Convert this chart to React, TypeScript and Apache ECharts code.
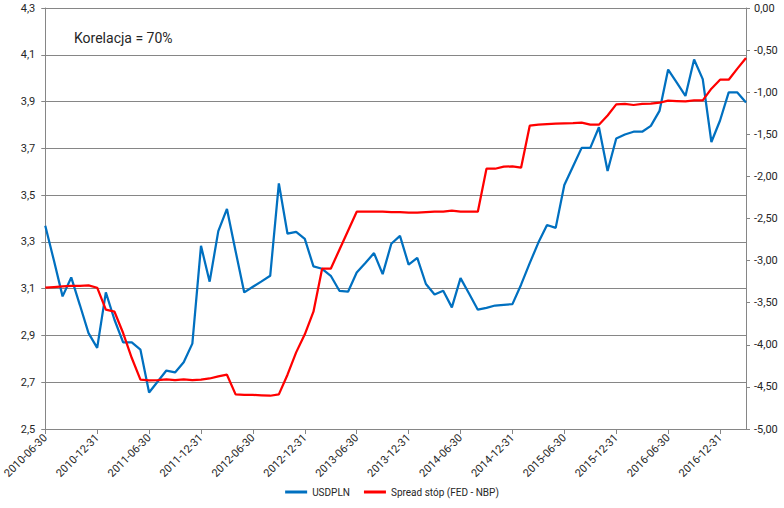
import React, { useEffect, useRef } from "react";
import * as echarts from "echarts";

// Monthly observations, June 2010 .. March 2017
const usdpln: number[] = [
  3.369, 3.22, 3.067, 3.148, 3.03, 2.91, 2.847, 3.084, 2.967, 2.87,
  2.87, 2.839, 2.656, 2.703, 2.75, 2.742, 2.785, 2.865, 3.283, 3.13,
  3.346, 3.441, 3.26, 3.084, 3.108, 3.131, 3.155, 3.55, 3.335, 3.343,
  3.313, 3.195, 3.185, 3.155, 3.091, 3.087, 3.169, 3.21, 3.252, 3.162,
  3.292, 3.326, 3.203, 3.232, 3.12, 3.075, 3.091, 3.02, 3.145, 3.078,
  3.01, 3.018, 3.028, 3.031, 3.034, 3.117, 3.209, 3.297, 3.372, 3.36,
  3.543, 3.622, 3.702, 3.702, 3.79, 3.603, 3.742, 3.759, 3.771, 3.771,
  3.796, 3.86, 4.037, 3.981, 3.924, 4.08, 3.996, 3.727, 3.819, 3.939,
  3.939, 3.896,
];

const spread: number[] = [
  -3.322, -3.314, -3.306, -3.3, -3.3, -3.294, -3.322, -3.583, -3.607, -3.86,
  -4.157, -4.414, -4.423, -4.42, -4.41, -4.42, -4.41, -4.42, -4.414, -4.4,
  -4.375, -4.355, -4.589, -4.595, -4.595, -4.6, -4.605, -4.589, -4.355, -4.09,
  -3.876, -3.607, -3.096, -3.096, -2.871, -2.645, -2.419, -2.419, -2.419, -2.419,
  -2.425, -2.425, -2.431, -2.431, -2.425, -2.419, -2.419, -2.407, -2.419, -2.419,
  -2.419, -1.909, -1.909, -1.885, -1.881, -1.897, -1.398, -1.386, -1.38, -1.374,
  -1.371, -1.368, -1.362, -1.386, -1.386, -1.276, -1.145, -1.14, -1.152, -1.14,
  -1.137, -1.125, -1.101, -1.105, -1.109, -1.097, -1.097, -0.958, -0.852, -0.852,
  -0.72, -0.594,
];

const START_YEAR = 2010;
const START_MONTH = 6;

const pad = (n: number) => (n < 10 ? "0" + n : "" + n);
const categories: string[] = usdpln.map((_, i) => {
  const idx = START_MONTH - 1 + i;
  const y = START_YEAR + Math.floor(idx / 12);
  const m = (idx % 12) + 1;
  const d = new Date(Date.UTC(y, m, 0)).getUTCDate();
  return `${y}-${pad(m)}-${pad(d)}`;
});

const leftTicks: string[] = ["2,5", "2,7", "2,9", "3,1", "3,3", "3,5", "3,7", "3,9", "4,1", "4,3"];
const LEFT_MIN = 2.5;
const LEFT_MAX = 4.3;
const RIGHT_MIN = -5;
const RIGHT_MAX = 0;
const RIGHT_STEP = 0.5;

const seriesNames = ["USDPLN", "Spread stóp (FED - NBP)"];
const annotation = "Korelacja = 70%";

const FONT = "Roboto, 'Noto Sans', sans-serif";
const AXIS_GRAY = "#868686";
const TEXT = "#262626";

export default function App() {
  const ref = useRef<HTMLDivElement>(null);

  useEffect(() => {
    if (!ref.current) return;
    const chart = echarts.init(ref.current, undefined, { renderer: "svg" });
    chart.setOption({
      animation: false,
      textStyle: { fontFamily: FONT },
      grid: { left: 42, right: 38, top: 8, bottom: 79, containLabel: false },
      xAxis: {
        type: "category",
        data: categories,
        boundaryGap: false,
        axisLine: { show: true, lineStyle: { color: AXIS_GRAY, width: 1 } },
        axisTick: { show: true, interval: 5, length: 5, lineStyle: { color: AXIS_GRAY } },
        axisLabel: {
          interval: 5,
          rotate: 45,
          margin: 7,
          fontSize: 11,
          color: TEXT,
          fontFamily: FONT,
        },
        splitLine: { show: false },
      },
      yAxis: [
        {
          // data axis for USDPLN (hidden)
          type: "value",
          min: LEFT_MIN,
          max: LEFT_MAX,
          show: false,
          position: "left",
        },
        {
          // visible left scale with gridlines
          type: "value",
          min: 0,
          max: leftTicks.length - 1,
          interval: 1,
          position: "left",
          axisLine: { show: true, lineStyle: { color: AXIS_GRAY, width: 1 } },
          axisTick: { show: true, length: 4, lineStyle: { color: AXIS_GRAY } },
          axisLabel: {
            margin: 10,
            fontSize: 11,
            color: TEXT,
            fontFamily: FONT,
            formatter: (v: number) => leftTicks[Math.round(v)] ?? "",
          },
          splitLine: { show: true, lineStyle: { color: AXIS_GRAY, width: 1 } },
        },
        {
          type: "value",
          min: RIGHT_MIN,
          max: RIGHT_MAX,
          interval: RIGHT_STEP,
          position: "right",
          axisLine: { show: true, lineStyle: { color: AXIS_GRAY, width: 1 } },
          axisTick: { show: true, length: 4, lineStyle: { color: AXIS_GRAY } },
          axisLabel: {
            margin: 8,
            fontSize: 11,
            color: TEXT,
            fontFamily: FONT,
            formatter: (v: number) => v.toFixed(2).replace(".", ","),
          },
          splitLine: { show: false },
        },
      ],
      legend: {
        bottom: 6,
        left: "center",
        icon: "rect",
        itemWidth: 22,
        itemHeight: 3,
        itemGap: 14,
        textStyle: { fontSize: 10, color: TEXT, fontFamily: FONT },
        data: seriesNames,
      },
      graphic: [
        {
          type: "text",
          left: 74,
          top: 31,
          style: { text: annotation, fontSize: 14, fill: TEXT, fontFamily: FONT },
        },
      ],
      series: [
        {
          name: seriesNames[0],
          type: "line",
          yAxisIndex: 0,
          data: usdpln,
          showSymbol: false,
          symbol: "none",
          lineStyle: { color: "#0070C0", width: 2.25 },
          itemStyle: { color: "#0070C0" },
        },
        {
          name: seriesNames[1],
          type: "line",
          yAxisIndex: 2,
          data: spread,
          showSymbol: false,
          symbol: "none",
          lineStyle: { color: "#FF0000", width: 2.25 },
          itemStyle: { color: "#FF0000" },
        },
      ],
    });
    return () => chart.dispose();
  }, []);

  return (
    <div
      ref={ref}
      style={{ position: "fixed", left: 0, top: 0, width: 784, height: 508, background: "#fff" }}
    />
  );
}
